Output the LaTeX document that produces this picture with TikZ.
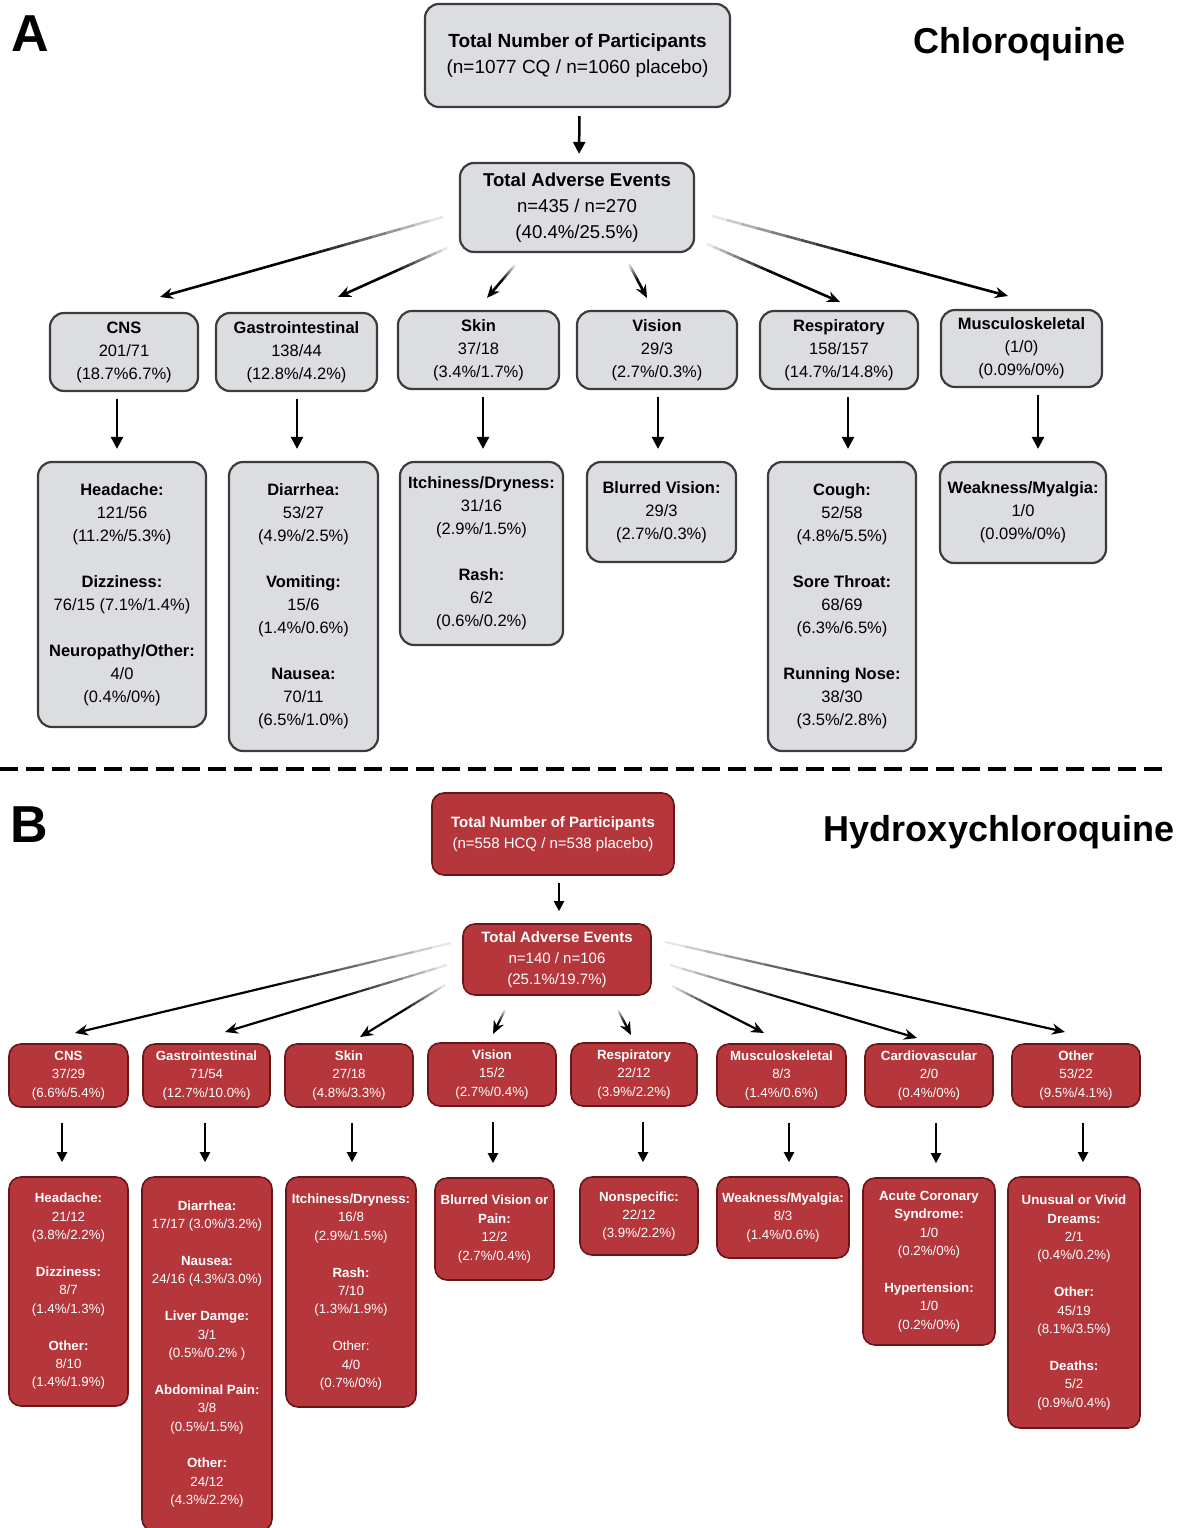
\documentclass[tikz,border=0pt]{standalone}
\usepackage{fontspec}
\setmainfont{Liberation Sans}
\usetikzlibrary{arrows.meta,calc}

\definecolor{cqfill}{HTML}{DCDDE0}
\definecolor{cqline}{HTML}{3C3C3C}
\definecolor{hcqfill}{HTML}{B5373B}
\definecolor{hcqline}{HTML}{6A1619}

\tikzset{
  cqbox/.style={draw=cqline, fill=cqfill, line width=2.2pt, rounded corners=14pt,
                align=center, inner sep=0pt, text=black},
  hcqbox/.style={draw=hcqline, fill=hcqfill, line width=1.6pt, rounded corners=12pt,
                 align=center, inner sep=0pt, text=white},
  cqtop/.style={cqbox, font=\fontsize{19}{26}\selectfont},
  cqnote/.style={cqbox, font=\fontsize{16.5}{23}\selectfont},
  hcqtop/.style={hcqbox, font=\fontsize{15}{21.5}\selectfont},
  hcqnote/.style={hcqbox, font=\fontsize{13.3}{18.4}\selectfont},
  wh/.style 2 args={minimum width=#1pt, minimum height=#2pt},
  dnarrow/.style={-{Triangle[length=12pt, width=12pt]}, line width=2.5pt},
  dnarrowB/.style={-{Triangle[length=10pt, width=10pt]}, line width=2pt},
  fan/.style={line width=2.6pt},
  fanB/.style={line width=2.2pt},
  panel/.style={font=\bfseries\fontsize{52}{56}\selectfont, inner sep=0pt, anchor=base},
  drug/.style={font=\bfseries\fontsize{36}{40}\selectfont, inner sep=0pt, anchor=base}
}

% arrow whose first half fades in
\newcommand{\fadearrow}[3][]{%
  \foreach \k [evaluate=\k as \ka using (\k-1)/20,
               evaluate=\k as \kb using \k/20,
               evaluate=\k as \op using \k/10] in {1,...,10}
    {\draw[#1, draw opacity=\op] ($(#2)!\ka!(#3)$) -- ($(#2)!\kb!(#3)$);}
  \draw[#1, -{Stealth[length=13pt, width=11pt]}] ($(#2)!0.5!(#3)$) -- (#3);
}

\begin{document}
\begin{tikzpicture}[x=1pt, y=-1pt]
  \useasboundingbox (0,0) rectangle (1178,1528);

  % ---------------- A: chloroquine
  \node[panel] (labA) at (30,52) {A};
  \node[drug] (ttlA) at (1019,53) {Chloroquine};

  \node[cqtop, wh={305}{103}] (totA) at (577.5,55.5)
    {\textbf{Total Number of Participants}\\(n=1077 CQ / n=1060 placebo)};
  \node[cqtop, font=\fontsize{18.6}{26}\selectfont, wh={234}{89}] (aeA) at (577,207.5)
    {\textbf{Total Adverse Events}\\n=435 / n=270\\(40.4\%/25.5\%)};
  \draw[dnarrow, shorten <=8pt, shorten >=8pt] ([xshift=2pt]totA.south) -- ([xshift=2pt]aeA.north);

  % body systems
  \node[cqnote, wh={148}{78}] (cnsA) at (124,352) {\textbf{CNS}\\201/71\\(18.7\%6.7\%)};
  \node[cqnote, wh={161}{78}] (giA) at (296.5,352) {\textbf{Gastrointestinal}\\138/44\\(12.8\%/4.2\%)};
  \node[cqnote, wh={161}{78}] (skinA) at (478.5,350) {\textbf{Skin}\\37/18\\(3.4\%/1.7\%)};
  \node[cqnote, wh={160}{78}] (visA) at (657,350) {\textbf{Vision}\\29/3\\(2.7\%/0.3\%)};
  \node[cqnote, wh={158}{78}] (respA) at (839,350) {\textbf{Respiratory}\\158/157\\(14.7\%/14.8\%)};
  \node[cqnote, wh={161}{77}] (muscA) at (1021.5,348.5) {\textbf{Musculoskeletal}\\(1/0)\\(0.09\%/0\%)};

  \foreach \i/\sx/\sy/\ex/\ey in {1/443/217/160/297, 2/447/248/338/297, 3/515/265/487/298,
                                  4/629/264/647/298, 5/707/244/840/302, 6/712/216/1008/296} {
    \coordinate (sA\i) at (\sx,\sy);
    \coordinate (eA\i) at (\ex,\ey);
    \fadearrow[fan]{sA\i}{eA\i}
  }

  % events
  \node[cqnote, wh={168}{265}] (headA) at (122,594.5)
    {\textbf{Headache:}\\121/56\\(11.2\%/5.3\%)\\[23pt]\textbf{Dizziness:}\\76/15 (7.1\%/1.4\%)\\[23pt]\textbf{Neuropathy/Other:}\\4/0\\(0.4\%/0\%)};
  \node[cqnote, wh={149}{289}] (diarA) at (303.5,606.5)
    {\textbf{Diarrhea:}\\53/27\\(4.9\%/2.5\%)\\[23pt]\textbf{Vomiting:}\\15/6\\(1.4\%/0.6\%)\\[23pt]\textbf{Nausea:}\\70/11\\(6.5\%/1.0\%)};
  \node[cqnote, wh={163}{183}] (itchA) at (481.5,553.5)
    {\textbf{Itchiness/Dryness:}\\31/16\\(2.9\%/1.5\%)\\[23pt]\textbf{Rash:}\\6/2\\(0.6\%/0.2\%)};
  \node[cqnote, wh={149}{100}] (blurA) at (661.5,512)
    {\textbf{Blurred Vision:}\\29/3\\(2.7\%/0.3\%)};
  \node[cqnote, wh={148}{289}] (coughA) at (842,606.5)
    {\textbf{Cough:}\\52/58\\(4.8\%/5.5\%)\\[23pt]\textbf{Sore Throat:}\\68/69\\(6.3\%/6.5\%)\\[23pt]\textbf{Running Nose:}\\38/30\\(3.5\%/2.8\%)};
  \node[cqnote, wh={166}{101}] (weakA) at (1023,512.5)
    {\textbf{Weakness/Myalgia:}\\1/0\\(0.09\%/0\%)};

  \foreach \a/\b/\dx in {cnsA/headA/-7, giA/diarA/0.5, skinA/itchA/4.5, visA/blurA/1,
                         respA/coughA/9, muscA/weakA/16.5}
    \draw[dnarrow, shorten <=7pt, shorten >=12pt]
      ([xshift=\dx pt]\a.south) -- ([xshift=\dx pt]\a.south |- \b.north);

  % separator
  \draw[line width=4pt, dash pattern=on 18pt off 8pt] (0,769) -- (1168,769);

  % ---------------- B: hydroxychloroquine
  \node[panel] (labB) at (29,842) {B};
  \node[drug] (ttlB) at (999,841) {Hydroxychloroquine};

  \node[hcqtop, wh={242}{82}] (totB) at (553,834)
    {\textbf{Total Number of Participants}\\(n=558 HCQ / n=538 placebo)};
  \node[hcqtop, font=\fontsize{15}{21}\selectfont, wh={188}{71}] (aeB) at (557,959.5)
    {\textbf{Total Adverse Events}\\n=140 / n=106\\(25.1\%/19.7\%)};
  \draw[dnarrowB, shorten <=7pt, shorten >=12pt]
    ([xshift=6pt]totB.south) -- ([xshift=6pt]totB.south |- aeB.north);

  % body systems
  \node[hcqnote, wh={119}{63}] (cnsB) at (68.5,1075.5) {\textbf{CNS}\\37/29\\(6.6\%/5.4\%)};
  \node[hcqnote, wh={127}{63}] (giB) at (206.5,1075.5) {\textbf{Gastrointestinal}\\71/54\\(12.7\%/10.0\%)};
  \node[hcqnote, wh={128}{63}] (skinB) at (349,1075.5) {\textbf{Skin}\\27/18\\(4.8\%/3.3\%)};
  \node[hcqnote, wh={128}{63}] (visB) at (492,1074.5) {\textbf{Vision}\\15/2\\(2.7\%/0.4\%)};
  \node[hcqnote, wh={126}{63}] (respB) at (634,1074.5) {\textbf{Respiratory}\\22/12\\(3.9\%/2.2\%)};
  \node[hcqnote, wh={129}{63}] (muscB) at (781.5,1075.5) {\textbf{Musculoskeletal}\\8/3\\(1.4\%/0.6\%)};
  \node[hcqnote, wh={128}{63}] (cardB) at (929,1075.5) {\textbf{Cardiovascular}\\2/0\\(0.4\%/0\%)};
  \node[hcqnote, wh={128}{63}] (othB) at (1076,1075.5) {\textbf{Other}\\53/22\\(9.5\%/4.1\%)};

  \foreach \i/\sx/\sy/\ex/\ey in {1/451/943/75/1033, 2/447/965/225/1032, 3/445/985/360/1037,
                                  4/505/1010/493/1034, 5/618/1010/631/1035, 6/672/986/764/1033,
                                  7/670/965/917/1038, 8/665/942/1065/1032} {
    \coordinate (sB\i) at (\sx,\sy);
    \coordinate (eB\i) at (\ex,\ey);
    \fadearrow[fanB]{sB\i}{eB\i}
  }

  % events
  \node[hcqnote, wh={119}{229}] (headB) at (68.5,1291.5)
    {\textbf{Headache:}\\21/12\\(3.8\%/2.2\%)\\[18.4pt]\textbf{Dizziness:}\\8/7\\(1.4\%/1.3\%)\\[18.4pt]\textbf{Other:}\\8/10\\(1.4\%/1.9\%)};
  \node[hcqnote, wh={130}{354}] (diarB) at (207,1354)
    {\textbf{Diarrhea:}\\17/17 (3.0\%/3.2\%)\\[18.4pt]\textbf{Nausea:}\\24/16 (4.3\%/3.0\%)\\[18.4pt]\textbf{Liver Damge:}\\3/1\\(0.5\%/0.2\% )\\[18.4pt]\textbf{Abdominal Pain:}\\3/8\\(0.5\%/1.5\%)\\[18.4pt]\textbf{Other:}\\24/12\\(4.3\%/2.2\%)};
  \node[hcqnote, wh={130}{230}] (itchB) at (351,1292)
    {\textbf{Itchiness/Dryness:}\\16/8\\(2.9\%/1.5\%)\\[18.4pt]\textbf{Rash:}\\7/10\\(1.3\%/1.9\%)\\[18.4pt]Other:\\4/0\\(0.7\%/0\%)};
  \node[hcqnote, wh={119}{102}] (blurB) at (494.5,1229)
    {\textbf{Blurred Vision or}\\\textbf{Pain:}\\12/2\\(2.7\%/0.4\%)};
  \node[hcqnote, wh={118}{78}] (nonsB) at (639,1216)
    {\textbf{Nonspecific:}\\22/12\\(3.9\%/2.2\%)};
  \node[hcqnote, wh={132}{81}] (weakB) at (783,1217.5)
    {\textbf{Weakness/Myalgia:}\\8/3\\(1.4\%/0.6\%)};
  \node[hcqnote, wh={132}{167}] (acsB) at (929,1261.5)
    {\textbf{Acute Coronary}\\\textbf{Syndrome:}\\1/0\\(0.2\%/0\%)\\[18.4pt]\textbf{Hypertension:}\\1/0\\(0.2\%/0\%)};
  \node[hcqnote, wh={132}{251}] (dreamB) at (1074,1302.5)
    {\textbf{Unusual or Vivid}\\\textbf{Dreams:}\\2/1\\(0.4\%/0.2\%)\\[18.4pt]\textbf{Other:}\\45/19\\(8.1\%/3.5\%)\\[18.4pt]\textbf{Deaths:}\\5/2\\(0.9\%/0.4\%)};

  \foreach \a/\b/\dx in {cnsB/headB/-6.5, giB/diarB/-1.5, skinB/itchB/3, visB/blurB/1,
                         respB/nonsB/9, muscB/weakB/7.5, cardB/acsB/7, othB/dreamB/7}
    \draw[dnarrowB, shorten <=15pt, shorten >=14pt]
      ([xshift=\dx pt]\a.south) -- ([xshift=\dx pt]\a.south |- \b.north);
\end{tikzpicture}
\end{document}
